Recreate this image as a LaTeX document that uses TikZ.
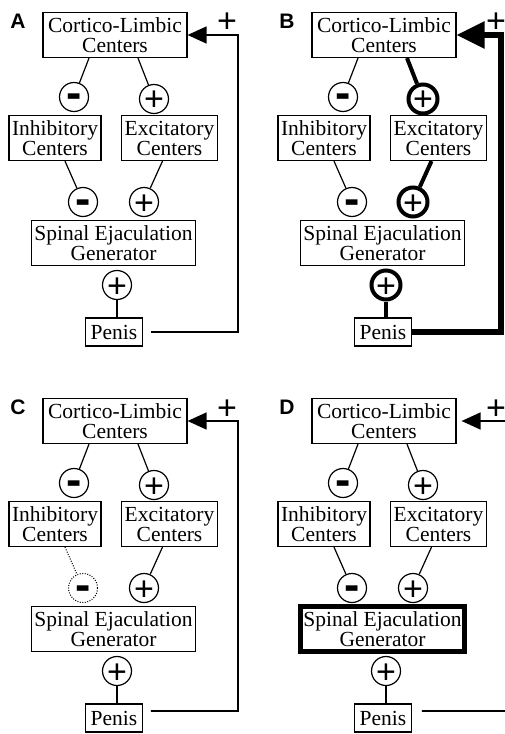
\documentclass[tikz,border=0pt]{standalone}
\usepackage{fontspec}
\setsansfont{Liberation Sans}
\newfontfamily\boxfont{Liberation Serif}
\usetikzlibrary{arrows.meta}

\newcommand{\plussign}{\raisebox{-12bp}[8bp][8bp]{+}}
\newcommand{\minussign}{{\bfseries\fontsize{46bp}{46bp}\selectfont\raisebox{-12bp}[4bp][4bp]{-}}}

\tikzset{
  box/.style={draw, line width=1.2bp, align=center, inner xsep=3bp, inner ysep=0pt,
    minimum height=45bp, font=\boxfont\fontsize{21.5bp}{20bp}\selectfont},
  sign/.style={draw, circle, line width=1.2bp, minimum size=29bp, inner sep=0pt,
    font=\sffamily\fontsize{34bp}{34bp}\selectfont},
  fbplus/.style={inner sep=0pt, font=\sffamily\fontsize{34bp}{34bp}\selectfont},
  tag/.style={font=\sffamily\bfseries\fontsize{21bp}{21bp}\selectfont},
  link/.style={line width=1.2bp},
  fb/.style={line width=1.6bp, -{Triangle[length=19bp,width=17bp]}},
  heavy/.style={line width=4bp},
  faint/.style={line width=1bp, dash pattern=on 1bp off 1.5bp},
  exsign/.style={}, exlink/.style={},
  insign/.style={}, inlink/.style={},
  genbox/.style={}
}

% one panel, #1 = panel letter (also the name prefix)
\newcommand{\reflexpanel}[1]{%
  \node[tag] (#1tag) at (18,21) {#1};
  \node[box, minimum width=144bp] (#1cl) at (115,35) {Cortico-Limbic\\Centers};
  \node[sign] (#1m1) at (74,97) {\minussign};
  \node[sign, exsign] (#1p1) at (154,99) {\plussign};
  \node[box, minimum width=90bp] (#1inh) at (55,138) {Inhibitory\\Centers};
  \node[box, minimum width=91bp] (#1exc) at (169.5,138) {Excitatory\\Centers};
  \node[sign, insign] (#1m2) at (83,202) {\minussign};
  \node[sign, exsign] (#1p2) at (144,202) {\plussign};
  \node[box, genbox, minimum width=164bp] (#1seg) at (113.5,243) {Spinal Ejaculation\\Generator};
  \node[sign, exsign] (#1p3) at (117,285) {\plussign};
  \node[box, minimum height=28bp, inner xsep=5bp] (#1pen) at (114,332) {Penis};
  \node[fbplus] (#1plus) at (227,21) {\plussign};
  \draw[link] ([xshift=-26bp]#1cl.south) -- (#1m1);
  \draw[link, exlink] ([xshift=23bp]#1cl.south) -- (#1p1);
  \draw[link, inlink] ([xshift=10bp]#1inh.south) -- (#1m2);
  \draw[link, exlink] ([xshift=-7bp]#1exc.south) -- (#1p2);
  \draw[link, exlink] (#1p3) -- (#1p3 |- #1pen.north);
}

\begin{document}
\begin{tikzpicture}[x=1bp, y=-1bp]
  \useasboundingbox (0,0) rectangle (505,734);

  % A
  \begin{scope}
    \reflexpanel{A}
    \coordinate (Aturn) at (238,332);
    \draw[fb, shorten <=8bp] (Apen.east) -- (Aturn) |- (Acl.east);
  \end{scope}

  % B: excitatory path heavy
  \begin{scope}[shift={(269,0)}, exsign/.style={heavy}, exlink/.style={heavy}]
    \reflexpanel{B}
    \coordinate (Bturn) at (232,332);
    \draw[fb, line width=5.5bp, -{Triangle[length=28bp,width=26bp]}]
      (Bpen.east) -- (Bturn) |- (Bcl.east);
  \end{scope}

  % C: inhibition lost
  \begin{scope}[shift={(0,386)}, insign/.style={faint}, inlink/.style={faint}]
    \reflexpanel{C}
    \coordinate (Cturn) at (238,325);
    \draw[fb, shorten <=8bp] ([yshift=7bp]Cpen.east) -- (Cturn) |- (Ccl.east);
  \end{scope}

  % D: generator heavy, loop open
  \begin{scope}[shift={(269,386)}, genbox/.style={line width=5bp}]
    \reflexpanel{D}
    \coordinate (Dout) at (236,325);
    \coordinate (Din) at (236,35);
    \draw[fb, -, shorten <=10bp] ([yshift=7bp]Dpen.east) -- (Dout);
    \draw[fb, shorten >=5bp] (Din) -- (Dcl.east);
  \end{scope}
\end{tikzpicture}
\end{document}
